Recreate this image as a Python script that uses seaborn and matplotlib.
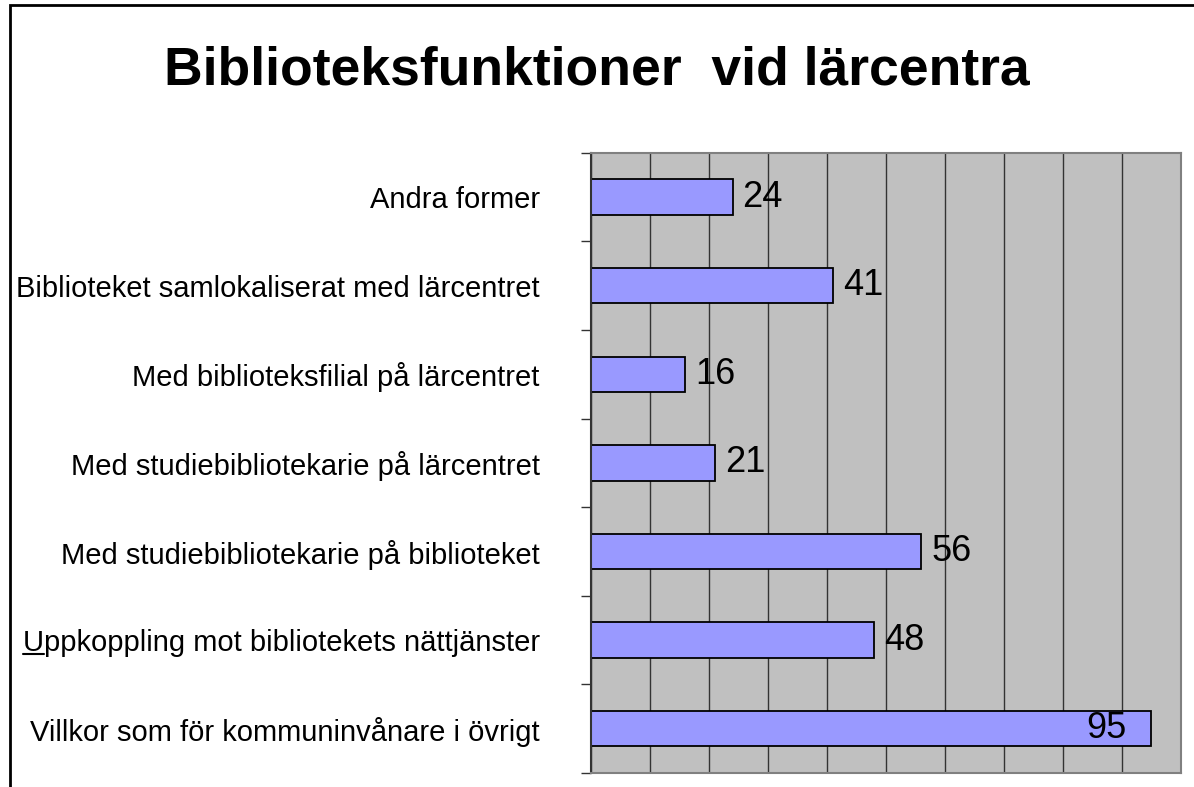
import matplotlib
matplotlib.use("Agg")
import matplotlib.pyplot as plt
import seaborn as sns
import pandas as pd
from matplotlib.patches import Rectangle
from matplotlib.lines import Line2D

# chart data, top to bottom
categories = [
    "Andra former",
    "Biblioteket samlokaliserat med lärcentret",
    "Med biblioteksfilial på lärcentret",
    "Med studiebibliotekarie på lärcentret",
    "Med studiebibliotekarie på biblioteket",
    "Uppkoppling mot bibliotekets nättjänster",
    "Villkor som för kommuninvånare i övrigt",
]
values = [24, 41, 16, 21, 56, 48, 95]
title = "Biblioteksfunktioner  vid lärcentra"

df = pd.DataFrame({"kategori": categories, "antal": values})

sns.set_theme(style="white")
plt.rcParams["font.family"] = ["Liberation Sans", "DejaVu Sans"]
plt.rcParams["text.color"] = "black"
plt.rcParams["ytick.labelcolor"] = "black"

fig = plt.figure(figsize=(11.94, 7.87), dpi=100)
ax = fig.add_axes([0.495, 0.0178, 0.494, 0.788])

sns.barplot(data=df, x="antal", y="kategori", orient="h", color="#9999FF",
            saturation=1, edgecolor="black", linewidth=1.3, width=0.4, ax=ax)

ax.set_facecolor("#C0C0C0")
ax.set_xlim(0, 100)
ax.set_xticks(range(0, 101, 10))
ax.set_xticklabels([])
ax.tick_params(axis="x", length=0)
ax.grid(axis="x", color="#333333", linewidth=1)
ax.set_axisbelow(True)
ax.set_xlabel("")
ax.set_ylabel("")

ax.set_yticks(range(len(categories)))
ax.set_yticklabels(categories, fontsize=21, color="black")
ax.tick_params(axis="y", length=0, pad=37)
ax.set_yticks([i - 0.5 for i in range(len(categories) + 1)], minor=True)
ax.tick_params(axis="y", which="minor", length=7, color="#333333", width=1, left=True)
ax.set_ylim(len(categories) - 0.5, -0.5)

for s in ax.spines.values():
    s.set_color("#808080")
    s.set_linewidth(1.5)
ax.spines["left"].set_color("#333333")

# value labels
for i, v in enumerate(values):
    if v > 85:
        ax.text(v - 4.2, i, str(v), ha="right", va="center", fontsize=26, color="black")
    else:
        ax.text(v + 1.7, i, str(v), ha="left", va="center", fontsize=26, color="black")

fig.text(0.5, 0.91, title, ha="center", va="center", fontsize=38.5,
         fontweight="bold", color="black")

# outer frame (cut at right and bottom)
fig.add_artist(Rectangle((0.008, -0.2), 1.2, 1.2 - 0.0064, transform=fig.transFigure,
                         fill=False, edgecolor="black", linewidth=2))

# underline the first letter of "Uppkoppling", as in the original
fig.canvas.draw()
renderer = fig.canvas.get_renderer()
lab = ax.get_yticklabels()[5]
bb = lab.get_window_extent(renderer)
tmp = fig.text(0, 0, "U", fontsize=21)
uw = tmp.get_window_extent(renderer).width
tmp.remove()
W, H = fig.bbox.width, fig.bbox.height
yl = bb.y0 + 3
fig.add_artist(Line2D([bb.x0 / W, (bb.x0 + uw) / W], [yl / H, yl / H],
                      transform=fig.transFigure, color="black", linewidth=1.5))

fig.savefig("out.png", dpi=100)
